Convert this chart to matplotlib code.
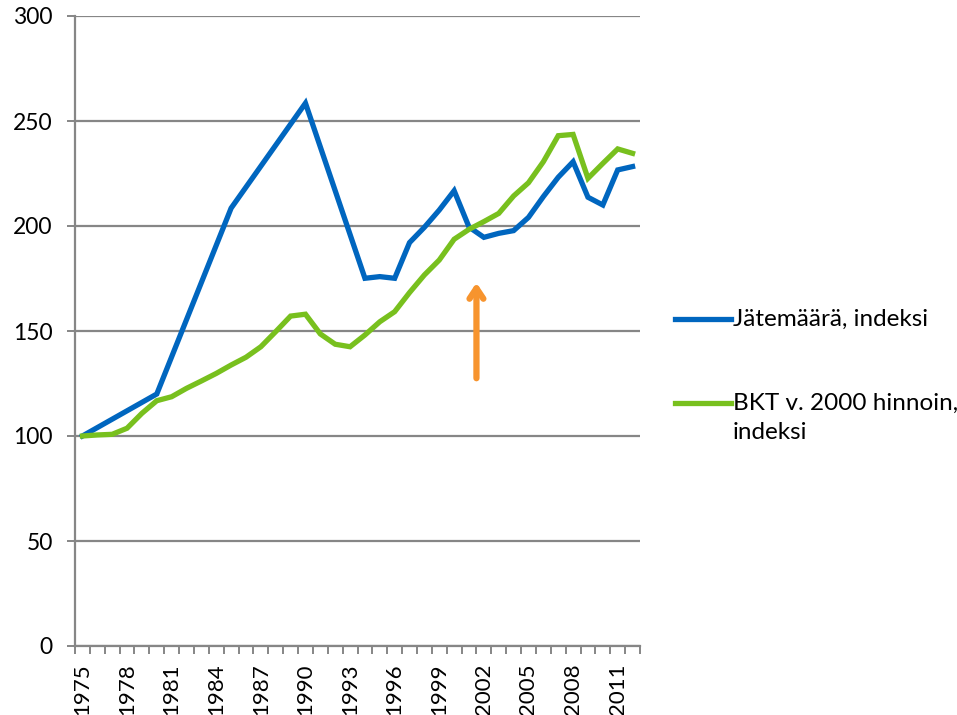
import matplotlib.pyplot as plt
from matplotlib.lines import Line2D

plt.rcParams['font.family'] = ['Lato', 'DejaVu Sans']

# Jätemäärä: väliltä puuttuu vuosia, viiva yhdistää olemassa olevat
vuodet_jate = [1975, 1980, 1985, 1990, 1994, 1995, 1996, 1997, 1998, 1999,
               2000, 2001, 2002, 2003, 2004, 2005, 2006, 2007, 2008, 2009,
               2010, 2011, 2012]
jate = [100, 120, 208.5, 258.5, 175.1, 175.9, 175.1, 192.1, 199.4, 207.6,
        216.8, 199.5, 194.6, 196.5, 197.8, 204.1, 214.0, 223.2, 230.6, 213.7,
        210.0, 226.7, 228.3]

vuodet_bkt = list(range(1975, 2013))
bkt = [100, 100.5, 100.8, 103.7, 110.8, 116.8, 118.7, 122.7, 126.2, 129.8,
       133.8, 137.5, 142.5, 149.7, 157.1, 158.0, 148.6, 143.7, 142.5, 148.1,
       154.4, 159.2, 168.3, 176.7, 183.8, 193.7, 198.4, 202.1, 206.0, 214.3,
       220.6, 230.6, 243.0, 243.6, 222.7, 229.8, 236.7, 234.6]

nimi_jate = 'Jätemäärä, indeksi'
nimi_bkt = 'BKT v. 2000 hinnoin,\nindeksi'

sininen = '#0066BF'
vihrea = '#78C01E'
oranssi = '#F7942E'
harmaa = '#868686'

fig = plt.figure(figsize=(9.57, 7.15), dpi=100)
ax = fig.add_axes([75/957, 1-646/715, (640-75)/957, (646-16)/715])

ax.plot(vuodet_jate, jate, color=sininen, lw=3.8, solid_joinstyle='miter', zorder=3)
ax.plot(vuodet_bkt, bkt, color=vihrea, lw=3.8, solid_joinstyle='miter', zorder=3)

ax.set_xlim(1974.5, 2012.5)
ax.set_ylim(0, 300)
ax.set_yticks(range(0, 301, 50))
ax.yaxis.grid(True, color=harmaa, lw=1.6)
ax.set_axisbelow(True)

ax.set_xticks(range(1975, 2013, 3))
ax.set_xticklabels([str(v) for v in range(1975, 2013, 3)], rotation=90)
ax.set_xticks([v + 0.5 for v in range(1974, 2013)], minor=True)
ax.tick_params(axis='x', which='major', length=0, pad=12.5, labelsize=16)
ax.tick_params(axis='x', which='minor', length=5.5, width=1.4, color=harmaa)
ax.tick_params(axis='y', length=6, width=1.4, color=harmaa, pad=10, labelsize=16.5)

for s in ['top', 'right']:
    ax.spines[s].set_visible(False)
for s in ['left', 'bottom']:
    ax.spines[s].set_color(harmaa)
    ax.spines[s].set_linewidth(1.6)

# nuoli vuoden 2001 kohdalla
ax.annotate('', xy=(2001.5, 173), xytext=(2001.5, 127.5),
            arrowprops=dict(arrowstyle='->,head_length=0.75,head_width=0.5',
                            color=oranssi, lw=4.5, shrinkA=0, shrinkB=0))

# selite
fig.add_artist(Line2D([675/957, 731/957], [1-319/715, 1-319/715],
                      color=sininen, lw=3.8))
fig.text(733/957, 1-319/715, nimi_jate, fontsize=17.5, va='center')
fig.add_artist(Line2D([675/957, 731/957], [1-403/715, 1-403/715],
                      color=vihrea, lw=3.8))
fig.text(733/957, 1-393/715, nimi_bkt, fontsize=17.5, va='top', linespacing=1.45)

fig.savefig('out.png', dpi=100)
